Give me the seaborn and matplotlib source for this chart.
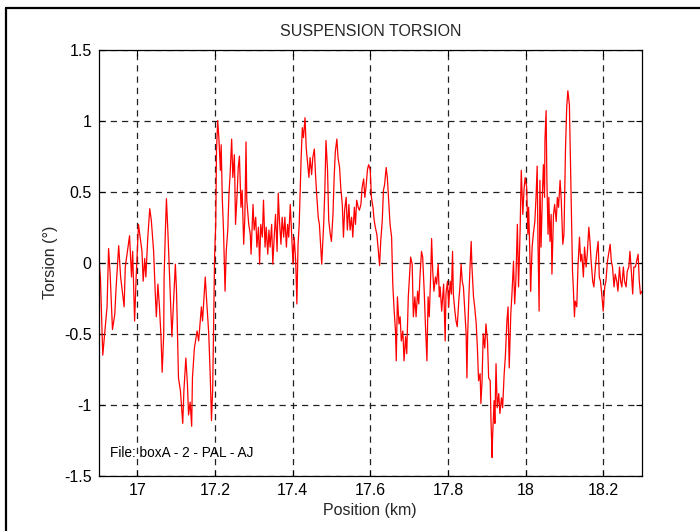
import numpy as np
import pandas as pd
import matplotlib
matplotlib.use("Agg")
import matplotlib.pyplot as plt
from matplotlib.lines import Line2D
import seaborn as sns

position = [
    16.900, 16.905, 16.911, 16.918, 16.922, 16.926, 16.930, 16.936, 16.942, 16.945,
    16.952, 16.957, 16.966, 16.969, 16.980, 16.985, 16.988, 16.993, 16.997, 17.003,
    17.012, 17.015, 17.019, 17.022, 17.027, 17.032, 17.036, 17.042, 17.046, 17.049,
    17.053, 17.057, 17.061, 17.064, 17.068, 17.069, 17.072, 17.075, 17.079, 17.082,
    17.086, 17.089, 17.093, 17.098, 17.101, 17.106, 17.111, 17.117, 17.120, 17.125,
    17.129, 17.132, 17.136, 17.140, 17.142, 17.147, 17.154, 17.158, 17.165, 17.168,
    17.175, 17.178, 17.184, 17.188, 17.191, 17.194, 17.196, 17.199, 17.202, 17.204,
    17.207, 17.210, 17.214, 17.216, 17.219, 17.222, 17.226, 17.229, 17.233, 17.236,
    17.239, 17.243, 17.246, 17.250, 17.253, 17.257, 17.260, 17.263, 17.267, 17.270,
    17.274, 17.277, 17.280, 17.282, 17.287, 17.291, 17.293, 17.298, 17.301, 17.305,
    17.308, 17.312, 17.315, 17.318, 17.322, 17.325, 17.329, 17.332, 17.336, 17.339,
    17.342, 17.346, 17.349, 17.353, 17.356, 17.360, 17.363, 17.366, 17.370, 17.373,
    17.377, 17.380, 17.384, 17.387, 17.390, 17.394, 17.397, 17.401, 17.404, 17.408,
    17.411, 17.414, 17.417, 17.420, 17.422, 17.425, 17.428, 17.432, 17.435, 17.439,
    17.442, 17.445, 17.449, 17.452, 17.456, 17.459, 17.462, 17.466, 17.469,
    17.471, 17.475, 17.480, 17.483, 17.486, 17.490, 17.493, 17.497, 17.500, 17.504,
    17.507, 17.510, 17.514, 17.517, 17.521, 17.524, 17.528, 17.531, 17.534, 17.538,
    17.541, 17.545, 17.548, 17.552, 17.555, 17.559, 17.562, 17.565, 17.569, 17.572,
    17.576, 17.579, 17.583, 17.586, 17.589, 17.593, 17.596, 17.600, 17.603, 17.607,
    17.610, 17.613, 17.617, 17.620, 17.624, 17.627, 17.631, 17.634, 17.637, 17.641,
    17.644, 17.648, 17.651, 17.655, 17.658, 17.661, 17.665, 17.667, 17.670, 17.674,
    17.677, 17.680, 17.684, 17.687, 17.691, 17.694, 17.698, 17.701, 17.704, 17.708,
    17.711, 17.715, 17.718, 17.722, 17.725, 17.728, 17.732, 17.735, 17.739, 17.742,
    17.746, 17.749, 17.752, 17.756, 17.758, 17.761, 17.764, 17.768, 17.771, 17.775,
    17.778, 17.780, 17.784, 17.789, 17.793, 17.795, 17.799, 17.802, 17.806, 17.809,
    17.812, 17.814, 17.818, 17.821, 17.824, 17.828, 17.831, 17.834, 17.837, 17.840,
    17.843, 17.847, 17.849, 17.851, 17.854, 17.857, 17.860, 17.862, 17.866, 17.869,
    17.873, 17.876, 17.879, 17.883, 17.885, 17.888, 17.891, 17.895, 17.898, 17.902,
    17.905, 17.909, 17.911, 17.914, 17.915, 17.919, 17.921, 17.924, 17.927, 17.931,
    17.934, 17.938, 17.941, 17.945, 17.948, 17.952, 17.955, 17.958, 17.962, 17.965,
    17.969, 17.972, 17.975, 17.979, 17.982, 17.986, 17.989, 17.993, 17.996, 17.999,
    18.003, 18.006, 18.008, 18.012, 18.013, 18.017, 18.020, 18.024, 18.027, 18.030,
    18.032, 18.035, 18.037, 18.040, 18.043, 18.046, 18.049, 18.050, 18.053, 18.055,
    18.058, 18.060, 18.063, 18.066, 18.068, 18.072, 18.075, 18.079, 18.082, 18.085,
    18.089, 18.092, 18.096, 18.099, 18.103, 18.106, 18.109, 18.113, 18.115, 18.118,
    18.121, 18.123, 18.126, 18.128, 18.132, 18.135, 18.139, 18.142, 18.145, 18.149,
    18.152, 18.156, 18.159, 18.163, 18.166, 18.169, 18.173, 18.176, 18.180, 18.183,
    18.187, 18.190, 18.193, 18.197, 18.200, 18.204, 18.207, 18.211, 18.214, 18.218,
    18.221, 18.224, 18.228, 18.231, 18.235, 18.238, 18.242, 18.245, 18.248, 18.252,
    18.255, 18.259, 18.262, 18.266, 18.269, 18.273, 18.276, 18.279, 18.283, 18.286,
    18.290, 18.293, 18.296, 18.300,
]

torsion = [
    0.08, -0.11, -0.65, -0.43, -0.31, 0.10, -0.08, -0.47, -0.36, -0.19,
    0.12, -0.10, -0.31, -0.03, 0.19, -0.10, 0.08, -0.41, -0.10, 0.27,
    0.08, -0.13, 0.03, -0.10, 0.18, 0.38, 0.30, 0.08, -0.20, -0.38,
    -0.15, -0.31, -0.52, -0.77, -0.50, -0.10, 0.20, 0.45, 0.20, -0.01,
    -0.31, -0.52, -0.29, -0.01, -0.20, -0.81, -0.90, -1.13, -0.90, -0.67,
    -0.85, -1.07, -0.98, -1.15, -0.81, -0.60, -0.48, -0.55, -0.31, -0.41,
    -0.10, -0.24, -0.50, -0.81, -1.11, -0.90, -0.55, 0.04, 0.27, 0.79,
    1.00, 0.88, 0.65, 0.83, 0.44, 0.23, -0.20, 0.08, 0.23, 0.48,
    0.62, 0.87, 0.60, 0.76, 0.27, 0.48, 0.67, 0.75, 0.39, 0.51,
    0.13, 0.32, 0.85, 0.44, 0.27, 0.20, 0.06, 0.41, 0.23, 0.32,
    0.11, 0.25, -0.01, 0.27, 0.18, 0.44, 0.11, 0.25, 0.06, 0.23,
    0.11, 0.27, -0.01, 0.20, 0.34, 0.08, 0.49, 0.30, 0.13, 0.32,
    0.18, 0.32, 0.11, 0.27, 0.18, 0.41, 0.23, -0.01, 0.18, 0.01,
    -0.29, 0.13, 0.27, 0.55, 0.74, 0.95, 0.88, 1.02, 0.81, 0.69,
    0.60, 0.74, 0.62, 0.74, 0.80, 0.62, 0.48, 0.32, 0.27,
    0.18, -0.01, 0.27, 0.51, 0.86, 0.65, 0.30, 0.20, 0.15, 0.34,
    0.60, 0.78, 0.87, 0.74, 0.67, 0.53, 0.41, 0.18, 0.37, 0.46,
    0.23, 0.41, 0.23, 0.32, 0.18, 0.39, 0.27, 0.44, 0.39, 0.37,
    0.41, 0.53, 0.59, 0.46, 0.53, 0.66, 0.69, 0.65, 0.46, 0.39,
    0.30, 0.25, 0.20, 0.11, -0.02, 0.15, 0.30, 0.51, 0.55, 0.67,
    0.60, 0.41, 0.27, 0.18, -0.15, -0.31, -0.48, -0.69, -0.24, -0.43,
    -0.38, -0.55, -0.48, -0.69, -0.52, -0.64, -0.24, -0.10, 0.04, -0.01,
    -0.38, -0.24, -0.38, -0.20, -0.29, -0.10, 0.08, 0.04, -0.20, -0.43,
    -0.69, -0.24, -0.38, -0.06, 0.17, -0.06, -0.20, -0.10, -0.15, -0.01,
    -0.24, -0.17, -0.34, -0.15, -0.55, -0.22, -0.13, -0.31, -0.13, -0.22,
    0.08, -0.22, -0.34, -0.41, -0.45, -0.27, -0.17, -0.01, -0.13, -0.17,
    -0.31, -0.50, -0.81, -0.50, -0.24, -0.03, 0.15, -0.03, -0.24, -0.31,
    -0.43, -0.60, -0.83, -0.78, -0.99, -0.83, -0.50, -0.60, -0.43, -0.55,
    -0.81, -0.83, -1.11, -1.37, -1.23, -0.97, -1.13, -0.71, -1.02, -0.92,
    -1.06, -0.95, -1.02, -0.78, -0.66, -0.41, -0.31, -0.74, -0.36, -0.22,
    0.01, -0.29, -0.13, 0.27, -0.17, 0.22, 0.65, 0.34, 0.51, 0.60,
    0.53, 0.20, 0.39, -0.03, -0.20, 0.11, 0.20, 0.29, 0.46, 0.68,
    0.15, -0.34, 0.58, 0.11, 0.44, 0.69, 0.46, 0.86, 1.07, 0.58,
    0.20, 0.46, 0.15, 0.34, -0.08, 0.34, 0.41, 0.29, 0.46, 0.39,
    0.58, 0.44, 0.13, 0.20, 0.81, 1.09, 1.21, 1.11, 0.81, 0.39,
    -0.06, -0.17, -0.38, -0.27, -0.31, -0.03, 0.18, 0.01, 0.06, -0.10,
    0.11, -0.03, 0.06, 0.25, 0.15, 0.01, -0.13, -0.17, -0.03, 0.06,
    0.15, -0.10, -0.13, -0.24, -0.34, -0.17, -0.13, 0.01, 0.06, 0.13,
    0.01, -0.03, -0.17, -0.08, -0.13, -0.20, -0.03, -0.13, -0.17, -0.03,
    -0.13, -0.17, -0.06, -0.03, 0.08, -0.08, -0.22, -0.03, -0.03, 0.01,
    0.06, -0.13, -0.22, -0.20,
]

x_ticks = [17.0, 17.2, 17.4, 17.6, 17.8, 18.0, 18.2]
x_tick_labels = ["17", "17.2", "17.4", "17.6", "17.8", "18", "18.2"]
y_ticks = [-1.5, -1.0, -0.5, 0.0, 0.5, 1.0, 1.5]
y_tick_labels = ["-1.5", "-1", "-0.5", "0", "0.5", "1", "1.5"]

df = pd.DataFrame({"Position": position, "Torsion": torsion})

sns.set_theme(style="white")
plt.rcParams["font.family"] = ["Liberation Sans", "DejaVu Sans"]

fig = plt.figure(figsize=(7.0, 5.31), dpi=100)
fig.patch.set_facecolor("white")
ax = fig.add_axes([98.5 / 700, 1 - 476 / 531, (642 - 98.5) / 700, (476 - 49.5) / 531])

sns.lineplot(data=df, x="Position", y="Torsion", ax=ax, sort=False, estimator=None,
             color="#ff0000", linewidth=0.9)

ax.set_xlim(16.9, 18.3)
ax.set_ylim(-1.5, 1.5)
ax.set_xticks(x_ticks)
ax.set_xticklabels(x_tick_labels)
ax.set_yticks(y_ticks)
ax.set_yticklabels(y_tick_labels)
ax.grid(True, color="#222222", linestyle=(0, (5, 4)), linewidth=0.9)
ax.set_axisbelow(True)
for s in ax.spines.values():
    s.set_visible(True)
    s.set_color("black")
    s.set_linewidth(0.9)
ax.tick_params(direction="in", length=4, width=0.8, top=True, right=True,
               bottom=True, left=True, labelsize=11.5, colors="black", pad=5)
ax.set_xlabel("Position (km)", fontsize=11.5, labelpad=4)
ax.set_ylabel("Torsion (°)", fontsize=11.5, labelpad=4)
ax.set_title("SUSPENSION TORSION", fontsize=11.5, pad=10)
ax.text(16.929, -1.335, "File: boxA - 2 - PAL - AJ", fontsize=9.8, color="black",
        va="center", ha="left")

# figure frame (top and left edges visible)
fig.add_artist(Line2D([6 / 700, 1.0], [1 - 8 / 531, 1 - 8 / 531], transform=fig.transFigure,
                      color="black", linewidth=1.6))
fig.add_artist(Line2D([6 / 700, 6 / 700], [0.0, 1 - 8 / 531], transform=fig.transFigure,
                      color="black", linewidth=1.6))

fig.savefig("out.png", dpi=100)
